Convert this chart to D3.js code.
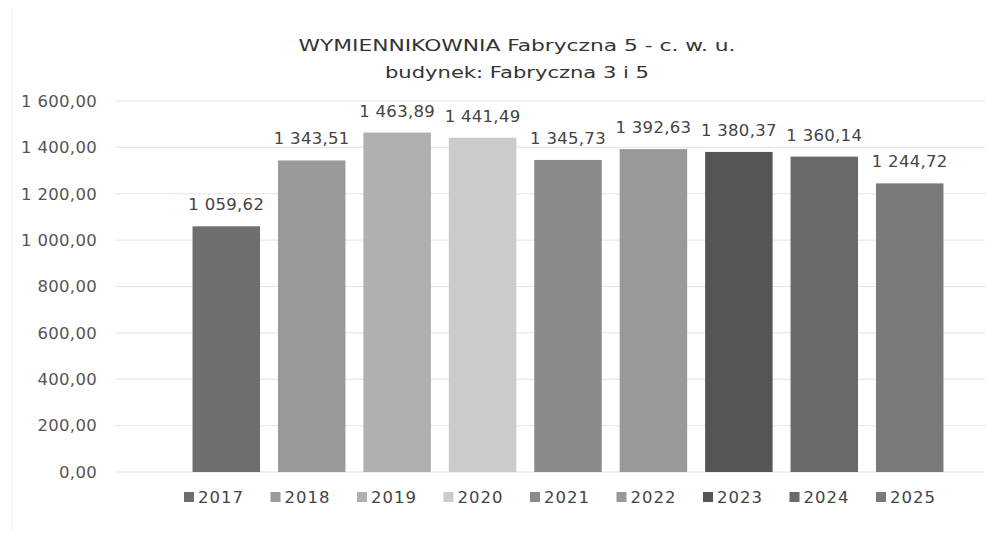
<!DOCTYPE html>
<html>
<head>
<meta charset="utf-8">
<script src="https://cdn.jsdelivr.net/npm/d3@7"></script>
<style>
  body { margin: 0; background: #fff; }
  text { font-family: "DejaVu Sans", "Liberation Sans", sans-serif; }
</style>
</head>
<body>
<svg width="1008" height="537"></svg>
<script>
const years = ["2017", "2018", "2019", "2020", "2021", "2022", "2023", "2024", "2025"];
const values = [1059.62, 1343.51, 1463.89, 1441.49, 1345.73, 1392.63, 1380.37, 1360.14, 1244.72];
const colors = ["#6e6e6e", "#9a9a9a", "#b0b0b0", "#cbcbcb", "#8a8a8a", "#999999", "#555555", "#6a6a6a", "#7a7a7a"];
const yTicks = [0, 200, 400, 600, 800, 1000, 1200, 1400, 1600];
const titleLines = ["WYMIENNIKOWNIA Fabryczna 5 - c. w. u.", "budynek: Fabryczna 3 i 5"];
const titleWidths = [437, 264];

const svg = d3.select("svg");

// number format like "1 343,51"
const fmt = v => d3.format(",.2f")(v).replace(/,/g, " ").replace(".", ",");

const x = d3.scaleBand().domain(years).range([184, 952]).paddingInner(0.21).paddingOuter(0.1);
const y = d3.scaleLinear().domain([0, 1600]).range([472, 101]);

// faint frame line on the left
svg.append("line")
   .attr("x1", 12).attr("x2", 12).attr("y1", 8).attr("y2", 530)
   .attr("stroke", "#ececec");

// gridlines
svg.append("g")
   .selectAll("line")
   .data(yTicks)
   .enter()
   .append("line")
   .attr("x1", 115).attr("x2", 985)
   .attr("y1", d => y(d)).attr("y2", d => y(d))
   .attr("stroke", "#e4e4e4");

// y axis labels
const yAxis = d3.axisLeft(y).tickValues(yTicks).tickSize(0).tickPadding(0).tickFormat(fmt);
svg.append("g")
   .attr("transform", "translate(97,0)")
   .call(yAxis)
   .call(g => g.select(".domain").remove())
   .call(g => g.selectAll("text")
     .attr("font-size", 16.5)
     .attr("fill", "#555")
     .style("font-family", "DejaVu Sans, sans-serif")
     .style("letter-spacing", "0.3px"));

// bars
svg.selectAll("rect.bar")
   .data(years)
   .enter()
   .append("rect")
   .attr("class", "bar")
   .attr("x", d => x(d))
   .attr("y", (d, i) => y(values[i]))
   .attr("width", x.bandwidth())
   .attr("height", (d, i) => y(0) - y(values[i]))
   .attr("fill", (d, i) => colors[i]);

// value labels
svg.selectAll("text.val")
   .data(years)
   .enter()
   .append("text")
   .attr("class", "val")
   .attr("x", d => x(d) + x.bandwidth() / 2)
   .attr("y", (d, i) => y(values[i]) - 16)
   .attr("text-anchor", "middle")
   .attr("font-size", 16.5)
   .attr("fill", "#444")
   .style("letter-spacing", "0.3px")
   .text((d, i) => fmt(values[i]));

// title
svg.selectAll("text.title")
   .data(titleLines)
   .enter()
   .append("text")
   .attr("class", "title")
   .attr("x", 517)
   .attr("y", (d, i) => 51 + i * 27)
   .attr("text-anchor", "middle")
   .attr("font-size", 16)
   .attr("fill", "#333")
   .attr("textLength", (d, i) => titleWidths[i])
   .attr("lengthAdjust", "spacingAndGlyphs")
   .text(d => d);

// legend
const legend = svg.append("g")
   .selectAll("g")
   .data(years)
   .enter()
   .append("g")
   .attr("transform", (d, i) => `translate(${184 + i * 86.5},497)`);

legend.append("rect")
   .attr("x", 0).attr("y", -5)
   .attr("width", 10).attr("height", 10)
   .attr("fill", (d, i) => colors[i]);

legend.append("text")
   .attr("x", 14).attr("y", 6)
   .attr("font-size", 16.5)
   .attr("fill", "#444")
   .style("letter-spacing", "1px")
   .text(d => d);
</script>
</body>
</html>
